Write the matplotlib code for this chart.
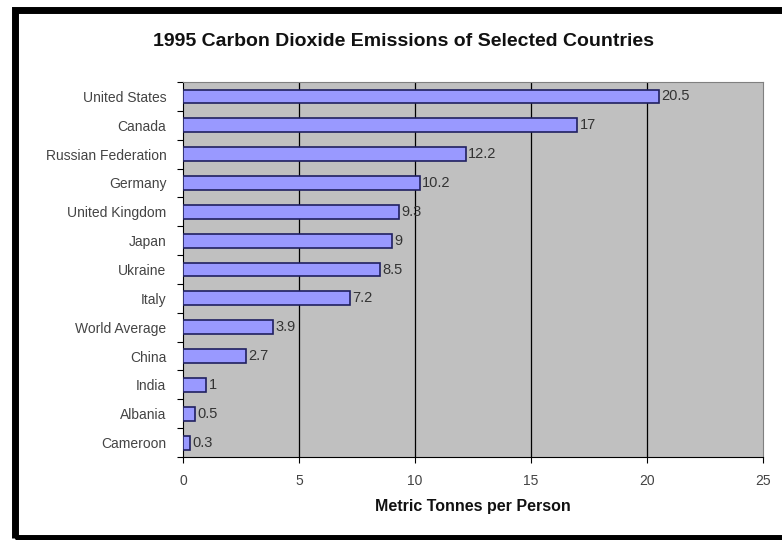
#!/usr/bin/env python3

import numpy as np
import matplotlib.pyplot as plt
from matplotlib.patches import Rectangle

countries = [ 'United States', 'Canada', 'Russian Federation', 'Germany',
              'United Kingdom', 'Japan', 'Ukraine', 'Italy', 'World Average',
              'China', 'India', 'Albania', 'Cameroon' ]
emissions = [ 20.5, 17, 12.2, 10.2, 9.3, 9, 8.5, 7.2, 3.9, 2.7, 1, 0.5, 0.3 ]
valueLabels = [ '20.5', '17', '12.2', '10.2', '9.3', '9', '8.5', '7.2',
                '3.9', '2.7', '1', '0.5', '0.3' ]
xTicks = [ 0, 5, 10, 15, 20, 25 ]

def makePlot():

    W, H = 782, 540
    plt.rcParams['font.family'] = [ 'Liberation Sans', 'DejaVu Sans' ]

    fig = plt.figure( figsize = ( W / 100, H / 100 ), dpi = 100 )
    fig.patch.set_facecolor( 'white' )

    # black frame round the chart (right side runs off the picture)
    fig.patches.append( Rectangle( ( 14.5 / W, 1 - 538 / H ),
                                   ( 800 - 14.5 ) / W, ( 538 - 9.5 ) / H,
                                   transform = fig.transFigure,
                                   fill = False, edgecolor = 'black',
                                   linewidth = 5.0, clip_on = False ) )

    ax = fig.add_axes( [ 183 / W, 1 - 457 / H, ( 763 - 183 ) / W,
                         ( 457 - 82 ) / H ] )
    ax.set_facecolor( '#c0c0c0' )

    n = len( countries )
    y = np.arange( n )[::-1]

    ax.barh( y, emissions, height = 0.48, color = '#9999ff',
             edgecolor = '#202060', linewidth = 1.2, zorder = 3 )

    for yi, v, s in zip( y, emissions, valueLabels ):
        ax.text( v + 0.1, yi, s, va = 'center', ha = 'left',
                 fontsize = 10.5, color = '#333333', zorder = 4 )

    ax.set_xlim( 0, 25 )
    ax.set_ylim( -0.5, n - 0.5 )

    ax.set_xticks( xTicks )
    ax.set_xticklabels( [ str( t ) for t in xTicks ], fontsize = 10,
                        color = '#444444' )
    ax.tick_params( axis = 'x', direction = 'out', length = 4, width = 0.8,
                    pad = 8 )

    ax.set_yticks( y )
    ax.set_yticklabels( countries, fontsize = 10, color = '#444444' )
    ax.tick_params( axis = 'y', which = 'major', length = 0, pad = 12 )
    ax.set_yticks( np.arange( n + 1 ) - 0.5, minor = True )
    ax.tick_params( axis = 'y', which = 'minor', direction = 'out',
                    length = 4, width = 0.8 )

    for xv in xTicks[1:-1]:
        ax.axvline( xv, color = 'black', linewidth = 0.9, zorder = 2 )

    for side in [ 'top', 'right' ]:
        ax.spines[side].set_color( '#808080' )
        ax.spines[side].set_linewidth( 0.8 )
    for side in [ 'left', 'bottom' ]:
        ax.spines[side].set_color( 'black' )
        ax.spines[side].set_linewidth( 0.8 )

    ax.set_xlabel( 'Metric Tonnes per Person', fontsize = 11.5,
                   fontweight = 'bold', labelpad = 8, color = '#111111' )

    fig.text( 403 / W, 1 - 42 / H,
              '1995 Carbon Dioxide Emissions of Selected Countries',
              ha = 'center', va = 'center', fontsize = 14,
              fontweight = 'bold', color = '#111111' )

    fig.savefig( 'out.png', dpi = 100 )

if __name__ == '__main__':

    makePlot()
